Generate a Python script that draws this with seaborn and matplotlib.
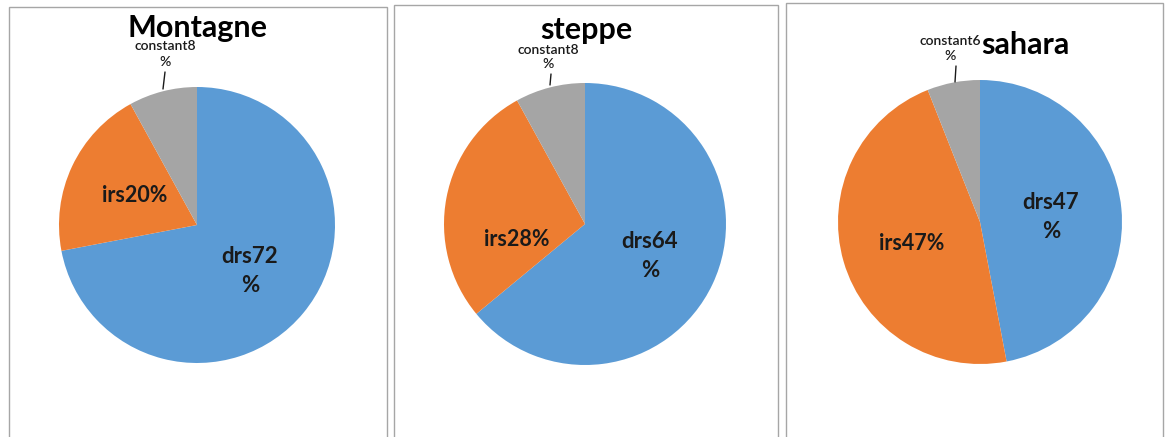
import numpy as np
import matplotlib
matplotlib.use("Agg")
import matplotlib.pyplot as plt
import seaborn as sns
from matplotlib.patches import Rectangle

sns.set_theme(style="white")
plt.rcParams["font.family"] = ["Lato", "DejaVu Sans"]

W, H = 1168, 437

titles = ["Montagne", "steppe", "sahara"]
categories = ["drs", "irs", "constant"]
montagne = [72, 20, 8]
steppe = [64, 28, 8]
sahara = [47, 47, 6]
series = [montagne, steppe, sahara]

colors = ["#5B9BD5", "#ED7D31", "#A5A5A5"]

# layout in pixels (image coords, y down)
panels = [(9, 7, 387), (394, 5, 778), (786, 3, 1163)]
centers = [(197, 225, 138), (585, 224, 141), (980, 222, 142)]
title_pos = [(198, 28), (586, 30), (1025, 45)]
# label positions: drs (two lines), irs, constant (two lines), leader line
drs_pos = [(250, 271), (650, 256), (1051, 217)]
irs_pos = [(135, 196), (517, 240), (912, 243)]
const_pos = [(165, 54), (548, 57), (950, 48)]
leader = [((165, 72), (163, 89)), ((551, 74), (550, 85)), ((956, 66), (955, 82))]

fig = plt.figure(figsize=(W / 100, H / 100), dpi=100)


def fx(px):
    return px / W


def fy(py):
    return 1 - py / H


for i in range(3):
    x0, y0, x1 = panels[i]
    fig.patches.append(Rectangle((fx(x0), fy(H + 5)), fx(x1 - x0), (H + 5 - y0) / H,
                                 transform=fig.transFigure, fill=False,
                                 edgecolor="#A6A6A6", linewidth=1.0))

    cx, cy, r = centers[i]
    ax = fig.add_axes([fx(cx - r), fy(cy + r), fx(2 * r), 2 * r / H])
    vals = series[i]
    ax.pie(vals, colors=colors, startangle=90, counterclock=False, radius=1,
           wedgeprops=dict(linewidth=0))
    ax.set_xlim(-1, 1)
    ax.set_ylim(-1, 1)
    ax.set_aspect("equal")
    ax.axis("off")

    def d(p):
        return ((p[0] - cx) / r, (cy - p[1]) / r)

    ax.text(*d(drs_pos[i]), f"{categories[0]}{vals[0]}\n%", ha="center", va="center",
            fontsize=16, fontweight="bold", color="#1a1a1a", linespacing=1.45)
    ax.text(*d(irs_pos[i]), f"{categories[1]}{vals[1]}%", ha="center", va="center",
            fontsize=15.5, fontweight="bold", color="#1a1a1a")
    ax.text(*d(const_pos[i]), f"{categories[2]}{vals[2]}\n%", ha="center", va="center",
            fontsize=10, fontweight="semibold", color="#1a1a1a", linespacing=1.3,
            clip_on=False)
    (a, b) = leader[i]
    p1, p2 = d(a), d(b)
    ax.plot([p1[0], p2[0]], [p1[1], p2[1]], color="#1a1a1a", lw=1, clip_on=False)

    tx, ty = title_pos[i]
    fig.text(fx(tx), fy(ty), titles[i], ha="center", va="center",
             fontsize=22, fontweight="bold", color="black")

fig.savefig("out.png", dpi=100)
